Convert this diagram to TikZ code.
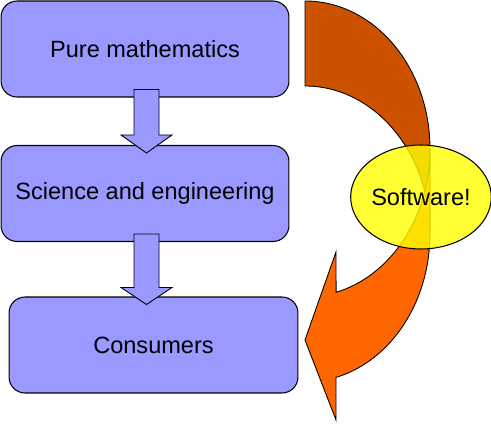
\documentclass[tikz,border=0pt]{standalone}
\usepackage{fontspec}
\setmainfont{Liberation Sans}
\usetikzlibrary{calc, shapes.geometric}

\definecolor{boxblue}{RGB}{153,153,255}
\definecolor{backorange}{RGB}{204,82,0}
\definecolor{frontorange}{RGB}{255,102,0}
\definecolor{softyellow}{RGB}{255,255,0}

\begin{document}
\begin{tikzpicture}[
    x=0.02cm, y=-0.02cm,
    box/.style={rectangle, draw=black, fill=boxblue, line width=0.6pt, minimum width=5.76cm, minimum height=1.92cm, rounded corners=0.32cm, align=center, font=\fontsize{13.4}{16}\selectfont},
    downarrow/.style={draw=black, fill=boxblue, line width=0.5pt, line join=miter},
    bandback/.style={draw=black, fill=backorange, line width=0.5pt},
    bandfront/.style={draw=black, fill=frontorange, line width=0.5pt},
    bubble/.style={ellipse, draw=black, fill=softyellow, fill opacity=0.8, text opacity=1, line width=0.6pt, minimum width=2.72cm, minimum height=2.08cm, inner sep=0pt, font=\fontsize{13.4}{16}\selectfont}
]
    \useasboundingbox (0,0) rectangle (491,425);

    % Boxes
    \node[box] (pure) at (145,49) {Pure mathematics};
    \node[box] (sci) at (145,193.5) {Science and engineering};
    \node[box, minimum width=5.78cm] (cons) at (153.5,345) {Consumers};

    % Block arrows between the boxes
    \draw[downarrow] ($(pure.south)+(-11,-8)$) -- ($(sci.north)+(-11,-10)$) -- ($(sci.north)+(-24,-10)$) -- ($(sci.north)+(1.5,8)$) -- ($(sci.north)+(27,-10)$) -- ($(sci.north)+(14,-10)$) -- ($(pure.south)+(14,-8)$) -- cycle;
    \draw[downarrow] ($(sci.south)+(-11,-8)$) -- ($(sci.south |- cons.north)+(-11,-9)$) -- ($(sci.south |- cons.north)+(-24,-9)$) -- ($(sci.south |- cons.north)+(1.5,8)$) -- ($(sci.south |- cons.north)+(27,-9)$) -- ($(sci.south |- cons.north)+(14,-9)$) -- ($(sci.south)+(14,-8)$) -- cycle;

    % Curved arrow round the right side
    \draw[bandback] (305,1) arc[start angle=-90, end angle=0, x radius=125, y radius=148] -- (430,234) arc[start angle=0, end angle=-90, x radius=125, y radius=148] -- cycle;
    \draw[bandfront] (430,149) arc[start angle=0, end angle=75.6, x radius=125, y radius=148] -- (336,252) -- (305,340) -- (336,420) -- (336,377.4) arc[start angle=75.6, end angle=0, x radius=125, y radius=148] -- cycle;

    % Ellipse on top
    \node[bubble] (soft) at (421,197) {Software!};
\end{tikzpicture}
\end{document}
